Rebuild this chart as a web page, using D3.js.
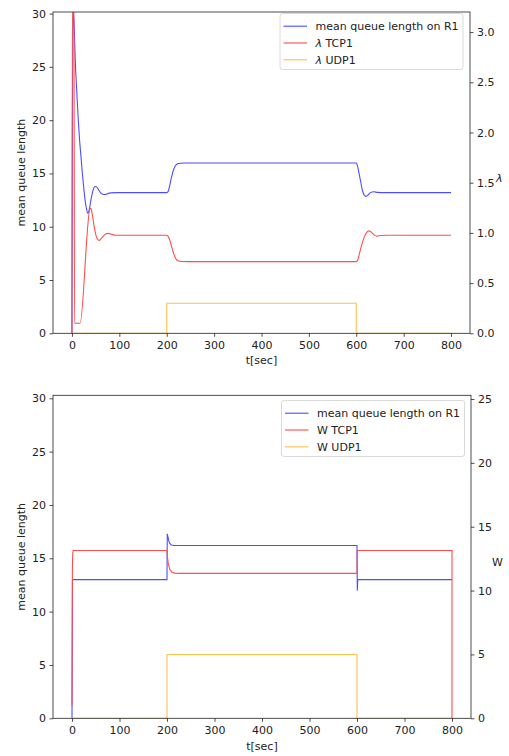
<!DOCTYPE html>
<html><head><meta charset="utf-8">
<script src="https://cdn.jsdelivr.net/npm/d3@7"></script>
<style>
body{margin:0;background:#fff;}
text{font-family:"DejaVu Sans",sans-serif;fill:#222;}
</style></head>
<body>
<svg id="chart" width="509" height="756"></svg>
<script>
// ---------- DATA ----------
const xTicks = [0,100,200,300,400,500,600,700,800];
const topLeftTicks = [0,5,10,15,20,25,30];
const topRightTicks = [0.0,0.5,1.0,1.5,2.0,2.5,3.0];
const botLeftTicks = [0,5,10,15,20,25,30];
const botRightTicks = [0,5,10,15,20,25];

// top chart: mean queue length (left axis) [t, value]
const topQueue = [[0,0],[1,20],[2,29.3],[2.8,30.1],[4,29.5],[5,28.5],[7,25.6],[10,22.8],[13,20.3],[16,18.2],[19,16.6],[22,15.0],[25,13.6],[28,12.4],[31,11.6],[33.5,11.25],[36,11.5],[40,12.5],[44,13.35],[48,13.75],[51,13.78],[55,13.55],[60,13.2],[65,13.05],[70,13.03],[76,13.12],[82,13.18],[95,13.2],[200,13.2],[203,13.3],[206,13.8],[210,14.6],[214,15.3],[218,15.7],[222,15.88],[228,15.96],[240,15.98],[600,15.98],[602,15.8],[605,15.2],[609,14.3],[613,13.4],[617,12.95],[620,12.85],[624,12.95],[630,13.2],[637,13.28],[645,13.22],[660,13.2],[800,13.2]];
// top chart: lambda TCP1 (right axis)
const topTcp = [[0,0],[1,3.5],[4,3.5],[5.5,0.1],[17,0.1],[38,1.24],[40,1.245],[43,1.18],[47,1.06],[51,0.97],[55,0.93],[58,0.925],[63,0.95],[70,0.985],[77,0.995],[84,0.985],[92,0.977],[200,0.977],[203,0.965],[207,0.92],[211,0.85],[215,0.79],[219,0.745],[224,0.722],[232,0.715],[245,0.714],[600,0.714],[603,0.73],[607,0.8],[612,0.89],[617,0.96],[622,1.005],[627,1.02],[632,1.005],[638,0.978],[644,0.968],[652,0.974],[665,0.977],[800,0.977]];
// top chart: lambda UDP1 (right axis)
const topUdp = [[0,0],[200,0],[200,0.3],[600,0.3],[600,0],[800,0]];

// bottom chart: mean queue length (left axis)
const botQueue = [[0,0],[1,13.0],[200,13.0],[200.6,17.3],[202,17.0],[204,16.6],[206,16.4],[209,16.25],[215,16.2],[600,16.2],[600.6,11.95],[601.6,13.0],[800,13.0]];
// bottom chart: W TCP1 (right axis)
const botTcp = [[0,1.0],[0.8,11.5],[1.5,12.9],[2.5,13.14],[200,13.14],[201,12.6],[203,12.05],[206,11.65],[210,11.45],[216,11.37],[225,11.35],[600,11.35],[600.5,13.14],[800,13.14],[800,0]];
// bottom chart: W UDP1 (right axis)
const botUdp = [[0,0],[200,0],[200,5.0],[600,5.0],[600,0],[800,0]];

// ---------- DRAWING ----------
const svg = d3.select("#chart");
const BLUE = "rgb(77,77,255)", RED = "rgb(255,77,77)", ORANGE = "rgb(255,192,77)";
const FS = 11;

function drawPanel(cfg) {
  const g = svg.append("g");
  const x = d3.scaleLinear().domain([-40,840]).range([cfg.left, cfg.right]);
  const yL = d3.scaleLinear().domain(cfg.leftDomain).range([cfg.bottom, cfg.top]);
  const yR = d3.scaleLinear().domain(cfg.rightDomain).range([cfg.bottom, cfg.top]);

  const clipId = "clip" + cfg.id;
  svg.append("clipPath").attr("id", clipId).append("rect")
    .attr("x", cfg.left).attr("y", cfg.top)
    .attr("width", cfg.right - cfg.left).attr("height", cfg.bottom - cfg.top);

  const lines = g.append("g").attr("clip-path", `url(#${clipId})`);
  const mk = (ys, curve) => d3.line().x(d => x(d[0])).y(d => ys(d[1])).curve(curve);
  cfg.series.forEach(s => {
    lines.append("path").datum(s.data)
      .attr("fill", "none").attr("stroke", s.color).attr("stroke-width", 1.1)
      .attr("d", mk(s.axis === "L" ? yL : yR, s.smooth ? d3.curveMonotoneX : d3.curveLinear));
  });

  // axes
  const ax = g.append("g").attr("transform", `translate(0,${cfg.bottom})`)
    .call(d3.axisBottom(x).tickValues(xTicks).tickSize(3.5).tickPadding(4).tickFormat(d3.format("d")));
  const al = g.append("g").attr("transform", `translate(${cfg.left},0)`)
    .call(d3.axisLeft(yL).tickValues(cfg.leftTicks).tickSize(3.5).tickPadding(3.5).tickFormat(d3.format("d")));
  const ar = g.append("g").attr("transform", `translate(${cfg.right},0)`)
    .call(d3.axisRight(yR).tickValues(cfg.rightTicks).tickSize(3.5).tickPadding(3.5).tickFormat(cfg.rightFmt));
  [ax, al, ar].forEach(a => {
    a.select(".domain").remove();
    a.selectAll("line").attr("stroke", "#222").attr("stroke-width", 0.8);
    a.selectAll("text").attr("font-size", FS).attr("font-family", "DejaVu Sans").attr("fill", "#222");
  });
  // frame
  g.append("rect").attr("x", cfg.left).attr("y", cfg.top)
    .attr("width", cfg.right - cfg.left).attr("height", cfg.bottom - cfg.top)
    .attr("fill", "none").attr("stroke", "#222").attr("stroke-width", 0.8);

  // labels
  g.append("text").attr("text-anchor", "middle").attr("font-size", FS)
    .attr("transform", `translate(${cfg.yLabelX},${(cfg.top + cfg.bottom) / 2}) rotate(-90)`)
    .attr("dy", "0.35em").text("mean queue length");
  g.append("text").attr("text-anchor", "middle").attr("font-size", FS)
    .attr("x", (cfg.left + cfg.right) / 2).attr("y", cfg.xLabelY).text("t[sec]");
  const rl = g.append("text").attr("font-size", FS)
    .attr("x", cfg.rightLabelX).attr("y", (cfg.top + cfg.bottom) / 2 + 9);
  if (cfg.rightItalic) rl.append("tspan").attr("font-style", "italic").text(cfg.rightLabel);
  else rl.text(cfg.rightLabel);

  // legend
  const lg = g.append("g");
  lg.append("rect").attr("x", cfg.legX).attr("y", cfg.legY).attr("width", 183).attr("height", 56)
    .attr("rx", 2.5).attr("fill", "#fff").attr("fill-opacity", 0.8)
    .attr("stroke", "#d0d0d0").attr("stroke-width", 0.8);
  cfg.legend.forEach((e, i) => {
    const cy = cfg.legY + 12.7 + i * 16.8;
    lg.append("line").attr("x1", cfg.legX + 3.5).attr("x2", cfg.legX + 27)
      .attr("y1", cy).attr("y2", cy).attr("stroke", e.color).attr("stroke-width", 1.1);
    const t = lg.append("text").attr("x", cfg.legX + 35.5).attr("y", cy).attr("dy", "0.35em").attr("font-size", FS);
    if (e.prefix) {
      t.append("tspan").attr("font-style", "italic").text(e.prefix);
      t.append("tspan").text(e.label);
    } else t.text(e.label);
  });
}

drawPanel({
  id: "top", left: 53, right: 470, top: 12, bottom: 333.3,
  leftDomain: [0, 30.15], rightDomain: [0, 3.2],
  leftTicks: topLeftTicks, rightTicks: topRightTicks, rightFmt: d3.format(".1f"),
  yLabelX: 21, xLabelY: 364, rightLabelX: 496, rightLabel: "λ", rightItalic: true,
  legX: 280, legY: 13.5,
  series: [
    {data: topQueue, axis: "L", color: BLUE, smooth: true},
    {data: topTcp, axis: "R", color: RED, smooth: true},
    {data: topUdp, axis: "R", color: ORANGE, smooth: false}
  ],
  legend: [
    {label: "mean queue length on R1", color: BLUE},
    {prefix: "λ", label: " TCP1", color: RED},
    {prefix: "λ", label: " UDP1", color: ORANGE}
  ]
});

drawPanel({
  id: "bot", left: 53, right: 471, top: 395.3, bottom: 718.3,
  leftDomain: [0, 30.28], rightDomain: [0, 25.29],
  leftTicks: botLeftTicks, rightTicks: botRightTicks, rightFmt: d3.format("d"),
  yLabelX: 21, xLabelY: 750, rightLabelX: 492, rightLabel: "W", rightItalic: false,
  legX: 281.5, legY: 400.5,
  series: [
    {data: botQueue, axis: "L", color: BLUE, smooth: false},
    {data: botTcp, axis: "R", color: RED, smooth: false},
    {data: botUdp, axis: "R", color: ORANGE, smooth: false}
  ],
  legend: [
    {label: "mean queue length on R1", color: BLUE},
    {label: "W TCP1", color: RED},
    {label: "W UDP1", color: ORANGE}
  ]
});
</script>
</body></html>
